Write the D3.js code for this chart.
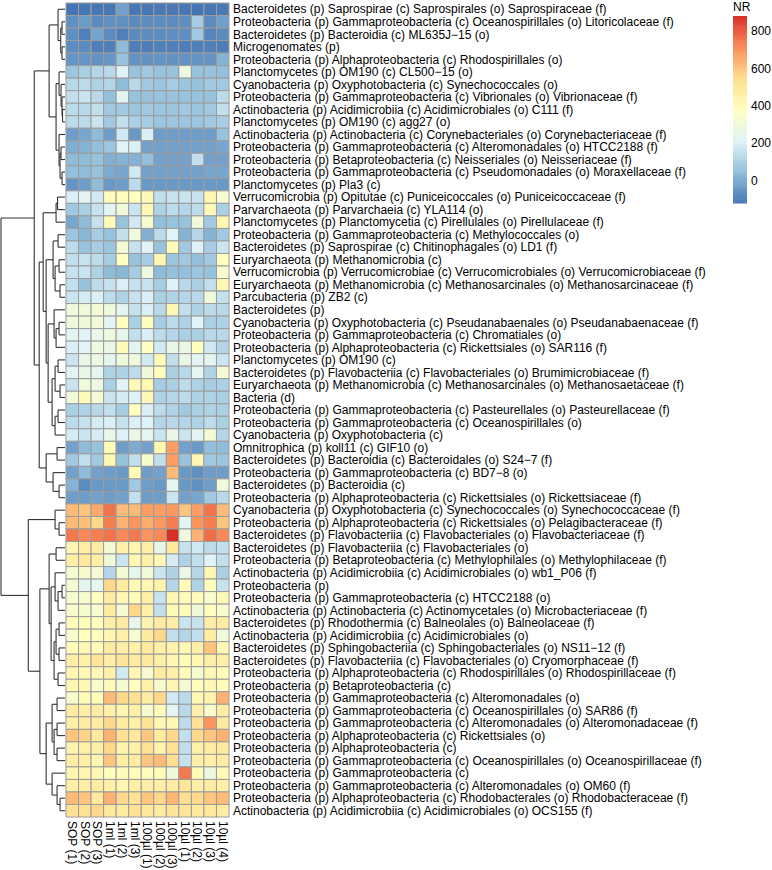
<!DOCTYPE html>
<html><head><meta charset="utf-8">
<script src="https://cdn.jsdelivr.net/npm/d3@7"></script>
<style>body{margin:0;background:#fff} text{font-family:"Liberation Sans",Arial,Helvetica,sans-serif}</style>
</head><body><svg id="c" width="772" height="870"></svg>
<script>
const colLabels = ["SOP (1)","SOP (2)","SOP (3)","1ml (1)","1ml (2)","1ml (3)","100µl (1)","100µl (2)","100µl (3)","10µl (1)","10µl (2)","10µl (3)","10µl (4)"];
const rowLabels = [
"Bacteroidetes (p) Saprospirae (c) Saprospirales (o) Saprospiraceae (f)",
"Proteobacteria (p) Gammaproteobacteria (c) Oceanospirillales (o) Litoricolaceae (f)",
"Bacteroidetes (p) Bacteroidia (c) ML635J\u221215 (o)",
"Microgenomates (p)",
"Proteobacteria (p) Alphaproteobacteria (c) Rhodospirillales (o)",
"Planctomycetes (p) OM190 (c) CL500\u221215 (o)",
"Cyanobacteria (p) Oxyphotobacteria (c) Synechococcales (o)",
"Proteobacteria (p) Gammaproteobacteria (c) Vibrionales (o) Vibrionaceae (f)",
"Actinobacteria (p) Acidimicrobiia (c) Acidimicrobiales (o) C111 (f)",
"Planctomycetes (p) OM190 (c) agg27 (o)",
"Actinobacteria (p) Actinobacteria (c) Corynebacteriales (o) Corynebacteriaceae (f)",
"Proteobacteria (p) Gammaproteobacteria (c) Alteromonadales (o) HTCC2188 (f)",
"Proteobacteria (p) Betaproteobacteria (c) Neisseriales (o) Neisseriaceae (f)",
"Proteobacteria (p) Gammaproteobacteria (c) Pseudomonadales (o) Moraxellaceae (f)",
"Planctomycetes (p) Pla3 (c)",
"Verrucomicrobia (p) Opitutae (c) Puniceicoccales (o) Puniceicoccaceae (f)",
"Parvarchaeota (p) Parvarchaeia (c) YLA114 (o)",
"Planctomycetes (p) Planctomycetia (c) Pirellulales (o) Pirellulaceae (f)",
"Proteobacteria (p) Gammaproteobacteria (c) Methylococcales (o)",
"Bacteroidetes (p) Saprospirae (c) Chitinophagales (o) LD1 (f)",
"Euryarchaeota (p) Methanomicrobia (c)",
"Verrucomicrobia (p) Verrucomicrobiae (c) Verrucomicrobiales (o) Verrucomicrobiaceae (f)",
"Euryarchaeota (p) Methanomicrobia (c) Methanosarcinales (o) Methanosarcinaceae (f)",
"Parcubacteria (p) ZB2 (c)",
"Bacteroidetes (p)",
"Cyanobacteria (p) Oxyphotobacteria (c) Pseudanabaenales (o) Pseudanabaenaceae (f)",
"Proteobacteria (p) Gammaproteobacteria (c) Chromatiales (o)",
"Proteobacteria (p) Alphaproteobacteria (c) Rickettsiales (o) SAR116 (f)",
"Planctomycetes (p) OM190 (c)",
"Bacteroidetes (p) Flavobacteriia (c) Flavobacteriales (o) Brumimicrobiaceae (f)",
"Euryarchaeota (p) Methanomicrobia (c) Methanosarcinales (o) Methanosaetaceae (f)",
"Bacteria (d)",
"Proteobacteria (p) Gammaproteobacteria (c) Pasteurellales (o) Pasteurellaceae (f)",
"Proteobacteria (p) Gammaproteobacteria (c) Oceanospirillales (o)",
"Cyanobacteria (p) Oxyphotobacteria (c)",
"Omnitrophica (p) koll11 (c) GIF10 (o)",
"Bacteroidetes (p) Bacteroidia (c) Bacteroidales (o) S24\u22127 (f)",
"Proteobacteria (p) Gammaproteobacteria (c) BD7\u22128 (o)",
"Bacteroidetes (p) Bacteroidia (c)",
"Proteobacteria (p) Alphaproteobacteria (c) Rickettsiales (o) Rickettsiaceae (f)",
"Cyanobacteria (p) Oxyphotobacteria (c) Synechococcales (o) Synechococcaceae (f)",
"Proteobacteria (p) Alphaproteobacteria (c) Rickettsiales (o) Pelagibacteraceae (f)",
"Bacteroidetes (p) Flavobacteriia (c) Flavobacteriales (o) Flavobacteriaceae (f)",
"Bacteroidetes (p) Flavobacteriia (c) Flavobacteriales (o)",
"Proteobacteria (p) Betaproteobacteria (c) Methylophilales (o) Methylophilaceae (f)",
"Actinobacteria (p) Acidimicrobiia (c) Acidimicrobiales (o) wb1_P06 (f)",
"Proteobacteria (p)",
"Proteobacteria (p) Gammaproteobacteria (c) HTCC2188 (o)",
"Actinobacteria (p) Actinobacteria (c) Actinomycetales (o) Microbacteriaceae (f)",
"Bacteroidetes (p) Rhodothermia (c) Balneolales (o) Balneolaceae (f)",
"Actinobacteria (p) Acidimicrobiia (c) Acidimicrobiales (o)",
"Bacteroidetes (p) Sphingobacteriia (c) Sphingobacteriales (o) NS11\u221212 (f)",
"Bacteroidetes (p) Flavobacteriia (c) Flavobacteriales (o) Cryomorphaceae (f)",
"Proteobacteria (p) Alphaproteobacteria (c) Rhodospirillales (o) Rhodospirillaceae (f)",
"Proteobacteria (p) Betaproteobacteria (c)",
"Proteobacteria (p) Gammaproteobacteria (c) Alteromonadales (o)",
"Proteobacteria (p) Gammaproteobacteria (c) Oceanospirillales (o) SAR86 (f)",
"Proteobacteria (p) Gammaproteobacteria (c) Alteromonadales (o) Alteromonadaceae (f)",
"Proteobacteria (p) Alphaproteobacteria (c) Rickettsiales (o)",
"Proteobacteria (p) Alphaproteobacteria (c)",
"Proteobacteria (p) Gammaproteobacteria (c) Oceanospirillales (o) Oceanospirillaceae (f)",
"Proteobacteria (p) Gammaproteobacteria (c)",
"Proteobacteria (p) Gammaproteobacteria (c) Alteromonadales (o) OM60 (f)",
"Proteobacteria (p) Alphaproteobacteria (c) Rhodobacterales (o) Rhodobacteraceae (f)",
"Actinobacteria (p) Acidimicrobiia (c) Acidimicrobiales (o) OCS155 (f)"
];
const values = [
[-120,-115,-115,-115,-20,-115,-115,-110,-110,-115,-120,-115,-110],
[-60,-35,-70,-60,-60,-70,-70,-65,-70,-65,90,-70,-25],
[-60,-95,-15,-70,-95,-70,-70,-70,-65,-65,80,-85,-70],
[-65,-70,-95,-95,40,-100,-100,-95,-95,-100,-95,-95,-100],
[-45,-45,-55,-45,60,-55,-55,-50,-55,-55,-50,-50,20],
[70,100,120,130,210,60,80,60,60,280,60,60,50],
[130,140,110,120,40,130,80,70,90,70,60,80,80],
[150,170,130,50,230,60,60,60,60,60,60,60,140],
[140,130,150,80,80,70,80,70,70,80,70,80,150],
[140,140,170,80,150,100,90,70,70,70,70,80,90],
[-30,-10,40,-30,180,-40,200,-30,-30,-30,-30,-30,60],
[10,20,50,70,220,200,-20,-20,-20,-20,-20,-20,-10],
[40,40,60,10,20,20,50,-20,-20,-20,150,-20,-20],
[50,40,60,0,-10,180,-20,-20,-20,-20,-20,-10,-10],
[-50,-30,40,-40,-30,140,-40,-40,-40,-40,-40,-40,-40],
[200,230,180,400,390,380,410,150,160,170,160,420,330],
[80,100,160,230,300,170,420,110,140,120,140,410,100],
[-10,40,160,400,60,180,330,50,60,60,300,80,430],
[70,30,90,60,150,300,10,140,220,20,120,20,80],
[140,60,90,70,320,160,220,60,400,80,210,90,170],
[150,160,140,90,380,60,90,430,70,80,50,80,380],
[160,170,110,40,30,90,280,40,50,50,70,60,330],
[150,60,140,160,200,160,160,90,210,130,100,150,420],
[170,190,200,140,110,160,200,100,110,120,130,300,150],
[290,300,320,290,240,160,200,130,420,150,110,140,130],
[300,300,310,230,380,100,390,90,140,110,220,100,110],
[230,220,260,290,250,150,200,140,120,100,100,130,130],
[200,220,290,270,400,230,380,180,260,270,380,180,120],
[170,260,280,240,300,290,180,400,150,260,230,240,170],
[230,260,240,110,110,140,300,390,100,130,240,110,320],
[170,290,280,100,220,410,420,90,100,140,110,90,100],
[300,400,320,170,190,210,410,110,120,140,110,110,100],
[100,110,130,150,90,380,200,140,110,80,100,110,100],
[140,160,190,200,160,200,210,120,130,120,110,140,100],
[190,170,190,260,210,260,240,170,260,170,230,320,120],
[-20,40,60,400,-30,0,-20,420,680,-20,-40,50,40],
[80,150,80,420,60,150,330,150,680,60,420,80,70],
[-20,40,-20,-30,-40,400,-30,-20,620,-40,-60,-30,-30],
[20,-70,-40,-40,-40,80,-30,-40,240,-40,-60,-30,300],
[-30,-30,-20,-30,-20,150,-30,-30,170,-20,-10,80,130],
[620,600,660,760,620,620,680,680,690,600,680,760,620],
[620,610,560,740,640,700,650,690,740,230,700,740,600],
[750,720,740,760,720,750,700,720,880,290,640,770,720],
[420,470,480,320,460,430,470,250,500,160,180,140,150],
[460,500,470,300,170,420,460,420,190,110,150,210,150],
[330,340,320,120,320,250,310,170,110,260,120,420,100],
[320,240,240,560,480,420,420,440,120,400,110,390,160],
[330,330,380,480,420,400,470,160,420,400,400,340,420],
[340,330,330,480,320,560,460,150,400,400,300,380,340],
[400,390,380,460,480,250,440,480,470,170,160,470,480],
[340,380,390,420,460,330,490,560,150,120,150,480,300],
[400,410,400,480,470,460,500,460,440,420,460,600,420],
[470,460,520,470,520,480,490,460,430,400,420,470,460],
[420,420,410,460,180,420,330,480,470,400,330,420,400],
[420,420,340,410,320,380,460,340,430,320,390,420,400],
[340,400,400,620,560,540,480,560,180,140,420,440,640],
[480,470,480,460,430,460,340,400,230,130,460,340,480],
[460,480,480,560,480,460,530,420,420,140,540,700,490],
[600,570,500,640,540,500,600,480,560,150,560,600,640],
[440,460,460,560,440,460,540,440,540,150,460,480,500],
[470,470,430,600,470,480,600,620,550,160,460,460,480],
[430,430,420,380,400,400,390,400,300,750,400,280,410],
[470,470,480,460,430,460,470,470,480,520,470,480,460],
[620,600,500,640,560,530,600,560,630,550,560,600,620],
[540,540,560,500,480,540,500,480,520,520,490,500,480]
];
const legendTicks = [0,200,400,600,800];
const legendTitle = "NR";
// row dendrogram: [mergeHeight, left, right]; leaves are row numbers (1-based)
const rowTree =
[64.5,
  [31,
    [16,
      [7, 1, [4.3, [3,2,3], [3,4,5]]],
      [9,
        [6, 6, [4, 7, [3, 8, [2.5, 9, 10]]]],
        [6, 11, [5, [4,12,13], [3,14,15]]]]],
    [26,
      [22,
        [9, [7.5,16,17], 18],
        [19,
          [12, [7,19,20], [10, [6,21,22], [5,23,24]]],
          [17,
            [11, 25, [9, [6,26,27], 28]],
            [13, [10, [7,29,30], [5,31,32]], [10, [7,33,34], 35]]]]],
      [19, [8,36,37], [12, 38, [6,39,40]]]]],
  [37,
    [10, 41, [6,42,43]],
    [25.3,
      [16, [9,44,45],
        [14,
          [10, 46, [7, [3,47,48], 49]],
          [11, [9, [6,50,51], [6,52,53]], [7,54,55]]]],
      [19,
        [13, [8,56,57], [11, [8,58,59], [8,60,61]]],
        [13, 62, [8, 63, [5,64,65]]]]]]];

const svg = d3.select("#c");
const FS = 12;
const hmX0 = 66, hmX1 = 229, hmY0 = 3, hmY1 = 817;
const x = d3.scaleBand().domain(d3.range(colLabels.length)).range([hmX0, hmX1]);
const y = d3.scaleBand().domain(d3.range(rowLabels.length)).range([hmY0, hmY1]);
const flat = values.flat();
const vmin = d3.min(flat), vmax = d3.max(flat);
const pal = ["#4575B4","#91BFDB","#E0F3F8","#FFFFBF","#FEE090","#FC8D59","#D73027"];
const color = d3.scaleLinear()
  .domain(pal.map((_, i) => vmin + (vmax - vmin) * i / (pal.length - 1)))
  .range(pal).interpolate(d3.interpolateRgb);

// heatmap cells
const g = svg.append("g");
values.forEach((row, r) => row.forEach((v, c) => {
  g.append("rect").attr("x", x(c)).attr("y", y(r))
    .attr("width", x.bandwidth()).attr("height", y.bandwidth())
    .attr("fill", color(v)).attr("stroke", "#9c9c9c").attr("stroke-width", 1);
}));

// row labels
svg.append("g").selectAll("text").data(rowLabels).join("text")
  .attr("x", hmX1 + 4).attr("y", (d, i) => y(i) + y.bandwidth() / 2)
  .attr("dy", "0.35em").attr("font-size", FS).attr("fill", "#000").text(d => d);

// column labels
svg.append("g").selectAll("text").data(colLabels).join("text")
  .attr("transform", (d, i) => `translate(${x(i) + x.bandwidth() / 2},${hmY1 + 4}) rotate(90)`)
  .attr("dy", "0.35em").attr("font-size", FS).attr("fill", "#000").text(d => d);

// dendrogram
const root = d3.hierarchy(rowTree, d => Array.isArray(d) ? d.slice(1) : null);
const hx = d3.scaleLinear().domain([0, rowTree[0]]).range([hmX0 - 1, 1]);
root.eachAfter(n => {
  if (n.children) { n.yy = d3.mean(n.children, c => c.yy); n.hh = n.data[0]; }
  else { n.yy = y(n.data - 1) + y.bandwidth() / 2; n.hh = 0; }
});
const dg = svg.append("g").attr("stroke", "#333").attr("stroke-width", 1.1).attr("fill", "none");
root.each(n => {
  if (!n.children) return;
  const nx = hx(n.hh);
  dg.append("line").attr("x1", nx).attr("x2", nx)
    .attr("y1", d3.min(n.children, c => c.yy)).attr("y2", d3.max(n.children, c => c.yy));
  n.children.forEach(c => {
    dg.append("line").attr("x1", nx).attr("x2", hx(c.hh)).attr("y1", c.yy).attr("y2", c.yy);
  });
});

// legend
const lx = 733, lw = 14, lTop = 16, lBot = 203;
const ly = d3.scaleLinear().domain([vmin, vmax]).range([lBot, lTop]);
const nSteps = 100;
const lg = svg.append("g");
d3.range(nSteps).forEach(i => {
  const a = vmin + (vmax - vmin) * i / nSteps, b = vmin + (vmax - vmin) * (i + 1) / nSteps;
  lg.append("rect").attr("x", lx).attr("y", ly(b)).attr("width", lw)
    .attr("height", ly(a) - ly(b) + 0.5).attr("fill", color((a + b) / 2));
});
lg.selectAll("text.t").data(legendTicks).join("text").attr("class", "t")
  .attr("x", lx + lw + 4).attr("y", d => ly(d)).attr("dy", "0.35em")
  .attr("font-size", FS).attr("fill", "#000").text(d => d);
lg.append("text").attr("x", lx).attr("y", 11).attr("font-size", FS)
  .attr("fill", "#000").text(legendTitle);
</script></body></html>
